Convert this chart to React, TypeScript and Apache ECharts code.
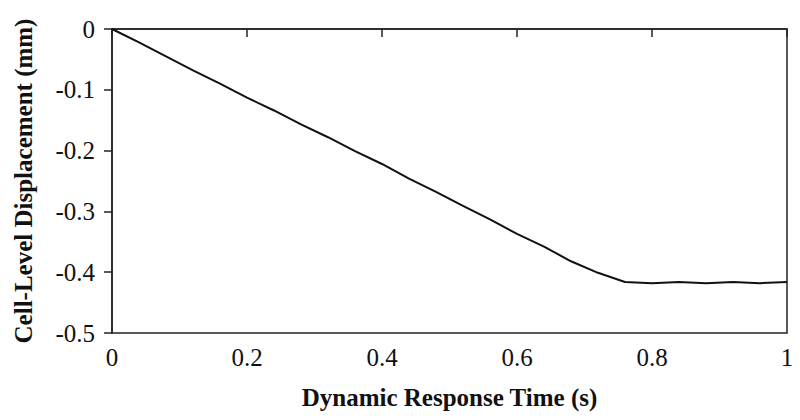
import React, { useEffect, useRef } from "react";
import * as echarts from "echarts";

const timeS = [0, 0.04, 0.08, 0.12, 0.16, 0.2, 0.24, 0.28, 0.32, 0.36, 0.4, 0.44, 0.48, 0.52, 0.56, 0.6, 0.64, 0.68, 0.72, 0.76, 0.8, 0.84, 0.88, 0.92, 0.96, 1.0];
const displacementMm = [0, -0.022, -0.045, -0.068, -0.09, -0.113, -0.134, -0.157, -0.178, -0.201, -0.222, -0.246, -0.268, -0.291, -0.313, -0.337, -0.358, -0.382, -0.401, -0.416, -0.418, -0.416, -0.418, -0.416, -0.418, -0.416];

const xTitle = "Dynamic Response Time (s)";
const yTitle = "Cell-Level Displacement (mm)";

export default function App() {
  const ref = useRef<HTMLDivElement>(null);
  useEffect(() => {
    if (!ref.current) return;
    const chart = echarts.init(ref.current, undefined, { renderer: "svg" });
    const font = "'Liberation Serif', 'Times New Roman', serif";
    const axisLine = { show: true, lineStyle: { color: "#222", width: 1.5 } };
    chart.setOption({
      animation: false,
      backgroundColor: "#fff",
      grid: {
        left: 112, top: 29, right: 13, bottom: 87,
        show: true, borderColor: "#222", borderWidth: 1.5,
      },
      xAxis: {
        type: "value", min: 0, max: 1, interval: 0.2,
        axisLine, axisTick: { show: true, length: 8, inside: false, lineStyle: { color: "#222", width: 1.5 } },
        splitLine: { show: false },
        axisLabel: { color: "#111", fontFamily: font, fontSize: 25, margin: 12 },
        name: xTitle, nameLocation: "middle", nameGap: 52,
        nameTextStyle: { color: "#111", fontFamily: font, fontSize: 25, fontWeight: "bold" },
      },
      yAxis: {
        type: "value", min: -0.5, max: 0, interval: 0.1,
        axisLine, axisTick: { show: true, length: 8, inside: false, lineStyle: { color: "#222", width: 1.5 } },
        splitLine: { show: false },
        axisLabel: { color: "#111", fontFamily: font, fontSize: 25, margin: 17 },
        name: yTitle, nameLocation: "middle", nameGap: 76,
        nameTextStyle: { color: "#111", fontFamily: font, fontSize: 25, fontWeight: "bold" },
      },
      series: [{
        type: "line",
        data: timeS.map((t, i) => [t, displacementMm[i]]),
        showSymbol: false,
        lineStyle: { color: "#111", width: 2 },
      }],
    });
    return () => chart.dispose();
  }, []);
  return <div ref={ref} style={{ width: 800, height: 420, position: "absolute", left: 0, top: 0 }} />;
}
